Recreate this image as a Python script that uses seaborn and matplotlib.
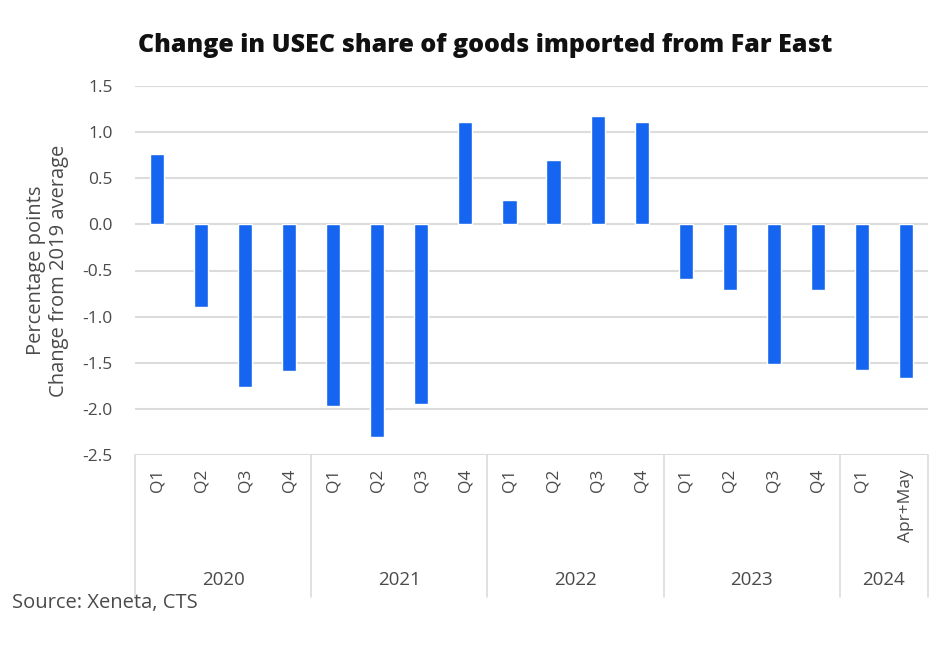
import matplotlib
matplotlib.use("Agg")
import matplotlib.pyplot as plt
import matplotlib.transforms as mtransforms
import seaborn as sns
import pandas as pd

# Quarterly change in the US East Coast share of Far East imports (pp vs 2019 average)
years = ["2020", "2020", "2020", "2020",
         "2021", "2021", "2021", "2021",
         "2022", "2022", "2022", "2022",
         "2023", "2023", "2023", "2023",
         "2024", "2024"]
periods = ["Q1", "Q2", "Q3", "Q4",
           "Q1", "Q2", "Q3", "Q4",
           "Q1", "Q2", "Q3", "Q4",
           "Q1", "Q2", "Q3", "Q4",
           "Q1", "Apr+May"]
change_pp = [0.76, -0.90, -1.76, -1.59,
             -1.97, -2.31, -1.95, 1.11,
             0.26, 0.70, 1.17, 1.11,
             -0.59, -0.71, -1.51, -0.71,
             -1.58, -1.66]
year_groups = ["2020", "2021", "2022", "2023", "2024"]
y_ticks = [1.5, 1.0, 0.5, 0.0, -0.5, -1.0, -1.5, -2.0, -2.5]

df = pd.DataFrame({"year": years, "period": periods, "change": change_pp})
df["key"] = df["year"] + " " + df["period"]

sns.set_theme(style="white")
plt.rcParams["font.family"] = ["Open Sans", "DejaVu Sans"]

BLUE = "#1565F0"
GRID = "#dcdcdc"
TEXT = "#4a4a4a"

W, H = 946, 645
fig = plt.figure(figsize=(W / 100, H / 100), dpi=100)
left, right, top, bottom = 135, 928, 86, 455
ax = fig.add_axes([left / W, 1 - bottom / H, (right - left) / W, (bottom - top) / H])

sns.barplot(data=df, x="key", y="change", order=list(df["key"]),
            color=BLUE, saturation=1, width=0.32, ax=ax, zorder=3)

ax.set_xlim(-0.5, len(df) - 0.5)
ax.set_ylim(-2.5, 1.5)
ax.set_yticks(y_ticks)
ax.set_yticklabels([f"{v:.1f}" for v in y_ticks], color=TEXT, fontsize=12.5)
ax.yaxis.grid(True, color=GRID, linewidth=1.5, zorder=0)
ax.xaxis.grid(False)
for s in ax.spines.values():
    s.set_visible(False)
ax.tick_params(axis="y", length=0, pad=16)

ax.set_xticks(range(len(df)))
ax.set_xticklabels(df["period"], rotation=90, color=TEXT, fontsize=12.5)
ax.tick_params(axis="x", length=0, pad=10)
ax.set_xlabel("")
ax.set_ylabel("Percentage points\nChange from 2019 average",
              color=TEXT, fontsize=14.5, labelpad=10, linespacing=1.15)

# Year grouping beneath the quarter labels
trans = mtransforms.blended_transform_factory(ax.transData, ax.transAxes)
axis_h = bottom - top
sep_bottom = (bottom - 597) / axis_h
year_y = (bottom - 580) / axis_h
bounds = [-0.5]
for yr in year_groups:
    n = sum(1 for y in years if y == yr)
    start = bounds[-1]
    bounds.append(start + n)
    ax.text(start + n / 2, year_y, yr, transform=trans, ha="center", va="center",
            color=TEXT, fontsize=13.5)
for b in bounds:
    ax.plot([b, b], [0, sep_bottom], transform=trans, color=GRID,
            linewidth=1.2, clip_on=False, zorder=1)

fig.text(485 / W, 1 - 45 / H, "Change in USEC share of goods imported from Far East",
         ha="center", va="center", fontsize=18, fontweight="heavy", color="#111111")
fig.text(12 / W, 1 - 603 / H, "Source: Xeneta, CTS", ha="left", va="center",
         fontsize=14.5, color=TEXT)

fig.savefig("out.png", dpi=100, facecolor="white")
